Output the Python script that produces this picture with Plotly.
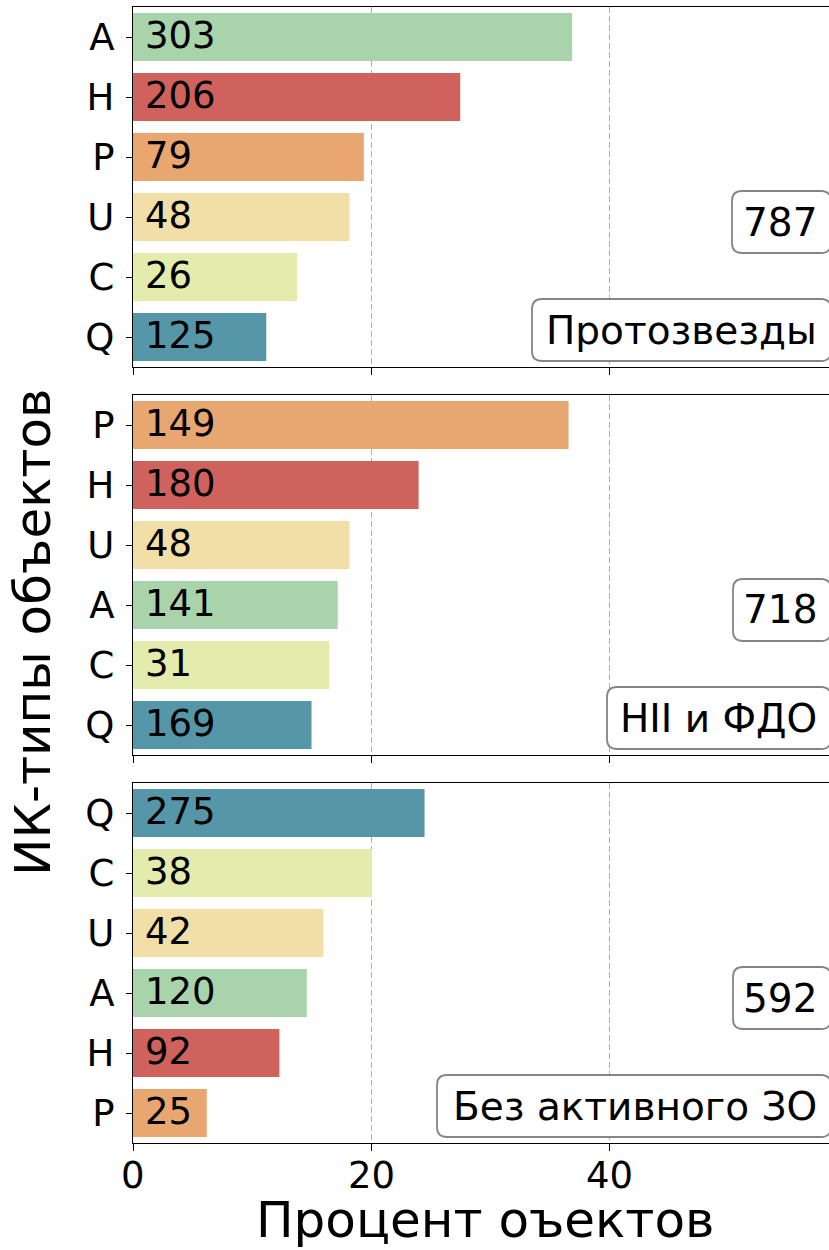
import plotly.graph_objects as go

# ---- data ----
panel_names = ["Протозвезды", "HII и ФДО", "Без активного ЗО"]
panel_totals = ["787", "718", "592"]

types_1 = ["A", "H", "P", "U", "C", "Q"]
pct_1 = [36.9, 27.5, 19.4, 18.2, 13.8, 11.2]
cnt_1 = [303, 206, 79, 48, 26, 125]

types_2 = ["P", "H", "U", "A", "C", "Q"]
pct_2 = [36.6, 24.0, 18.2, 17.2, 16.5, 15.0]
cnt_2 = [149, 180, 48, 141, 31, 169]

types_3 = ["Q", "C", "U", "A", "H", "P"]
pct_3 = [24.5, 20.1, 16.0, 14.6, 12.3, 6.2]
cnt_3 = [275, 38, 42, 120, 92, 25]

x_ticks = [0, 20, 40]
x_title = "Процент оъектов"
y_title = "ИК-типы объектов"

type_colors = {
    "A": "#a9d3aa",
    "H": "#d0625e",
    "P": "#e8a771",
    "U": "#f2dfa7",
    "C": "#e3ecac",
    "Q": "#5597a8",
}

# ---- layout geometry (pixels) ----
W, H = 829, 1250
ML, MR, MT, MB = 133, 0, 7, 107
PW = W - ML - MR
PH = H - MT - MB
PANEL_H = 360
GAP = 28
XMAX = PW / 11.9

FONT = "DejaVu Sans"
TICK_SIZE = 37
BOX_SIZE = 39
TITLE_SIZE = 50


def px_to_paper_x(px):
    return (px - ML) / PW


def px_to_paper_y(py):
    return (H - MB - py) / PH


fig = go.Figure()

panels = [(types_1, pct_1, cnt_1), (types_2, pct_2, cnt_2), (types_3, pct_3, cnt_3)]
annotations = []
shapes = []

total_box_left = [732, 733, 733]
name_box_left = [532, 607, 437]


def rounded_box(l, t, r, b, rad=10):
    x0, x1 = px_to_paper_x(l), px_to_paper_x(r)
    y0, y1 = px_to_paper_y(t), px_to_paper_y(b)
    rx, ry = rad / PW, rad / PH
    path = (f"M {x0+rx},{y0} L {x1-rx},{y0} Q {x1},{y0} {x1},{y0-ry} "
            f"L {x1},{y1+ry} Q {x1},{y1} {x1-rx},{y1} L {x0+rx},{y1} "
            f"Q {x0},{y1} {x0},{y1+ry} L {x0},{y0-ry} Q {x0},{y0} {x0+rx},{y0} Z")
    return dict(type="path", path=path, xref="paper", yref="paper",
                line=dict(color="#858585", width=1.8), fillcolor="white",
                layer="above")


for i, (types, pcts, cnts) in enumerate(panels):
    idx = "" if i == 0 else str(i + 1)
    xa = "x" + idx
    ya = "y" + idx
    top_px = MT + i * (PANEL_H + GAP)
    bot_px = top_px + PANEL_H
    fig.add_trace(go.Bar(
        x=pcts, y=types, orientation="h",
        marker=dict(color=[type_colors[t] for t in types], line=dict(width=0)),
        width=0.8, xaxis=xa, yaxis=ya, showlegend=False, hoverinfo="x+y",
    ))
    for t, c in zip(types, cnts):
        annotations.append(dict(
            x=0, y=t, xref=xa, yref=ya, text=str(c), showarrow=False,
            xanchor="left", yanchor="middle", xshift=10, yshift=2,
            font=dict(family=FONT, size=TICK_SIZE, color="black"),
        ))
    dom = [px_to_paper_y(bot_px), px_to_paper_y(top_px)]
    fig.layout["yaxis" + idx] = dict(
        domain=dom, anchor=xa, type="category",
        categoryorder="array", categoryarray=types,
        range=[5.5, -0.5], showline=True, linecolor="black", linewidth=1.3,
        ticks="outside", ticklen=6, tickwidth=1.3, tickcolor="black",
        tickfont=dict(family=FONT, size=TICK_SIZE, color="black"),
        showgrid=False, zeroline=False, fixedrange=True, ticklabelstandoff=4,
    )
    fig.layout["xaxis" + idx] = dict(
        domain=[0, 1], anchor=ya, range=[0, XMAX],
        tickvals=x_ticks, showticklabels=False,
        showline=True, mirror=True, linecolor="black", linewidth=1.3,
        ticks="outside", ticklen=7, tickwidth=1.3, tickcolor="black",
        showgrid=True, gridcolor="#b0b0b0", gridwidth=1.2, griddash="6px,3px",
        zeroline=False, fixedrange=True,
    )
    if i < 2:
        fig.layout["xaxis" + idx]["matches"] = "x3"

    tb_top, tb_bot = top_px + 184, top_px + 246
    nb_top, nb_bot = top_px + 292, top_px + 354
    shapes.append(rounded_box(total_box_left[i], tb_top, W + 2, tb_bot))
    shapes.append(rounded_box(name_box_left[i], nb_top, W + 2, nb_bot))
    annotations.append(dict(
        x=px_to_paper_x(819), y=px_to_paper_y((tb_top + tb_bot) / 2),
        xref="paper", yref="paper", text=panel_totals[i], showarrow=False,
        xanchor="right", yanchor="middle",
        font=dict(family=FONT, size=BOX_SIZE, color="black"),
    ))
    annotations.append(dict(
        x=px_to_paper_x(819), y=px_to_paper_y((nb_top + nb_bot) / 2),
        xref="paper", yref="paper", text=panel_names[i], showarrow=False,
        xanchor="right", yanchor="middle",
        font=dict(family=FONT, size=BOX_SIZE, color="black"),
    ))

# x tick labels of the bottom panel (placed precisely)
for v in x_ticks:
    annotations.append(dict(
        x=v, y=px_to_paper_y(1175), xref="x3", yref="paper", text=str(v),
        showarrow=False, xanchor="center", yanchor="middle",
        font=dict(family=FONT, size=TICK_SIZE, color="black"),
    ))

annotations.append(dict(
    x=px_to_paper_x(485), y=px_to_paper_y(1220), xref="paper", yref="paper",
    text=x_title, showarrow=False, xanchor="center", yanchor="middle",
    font=dict(family=FONT, size=TITLE_SIZE, color="black"),
))
annotations.append(dict(
    x=px_to_paper_x(33), y=px_to_paper_y(632), xref="paper", yref="paper",
    text=y_title, showarrow=False, xanchor="center", yanchor="middle",
    textangle=-90, font=dict(family=FONT, size=TITLE_SIZE, color="black"),
))

fig.update_layout(
    width=W, height=H, margin=dict(l=ML, r=MR, t=MT, b=MB, pad=0),
    paper_bgcolor="white", plot_bgcolor="white",
    annotations=annotations, shapes=shapes, bargap=0.2,
    font=dict(family=FONT, color="black"),
)

fig.write_html(
    "out.html",
    config={"displayModeBar": False},
    post_script="document.body.style.margin='0';document.body.style.padding='0';"
                "document.body.style.overflow='hidden';",
)
